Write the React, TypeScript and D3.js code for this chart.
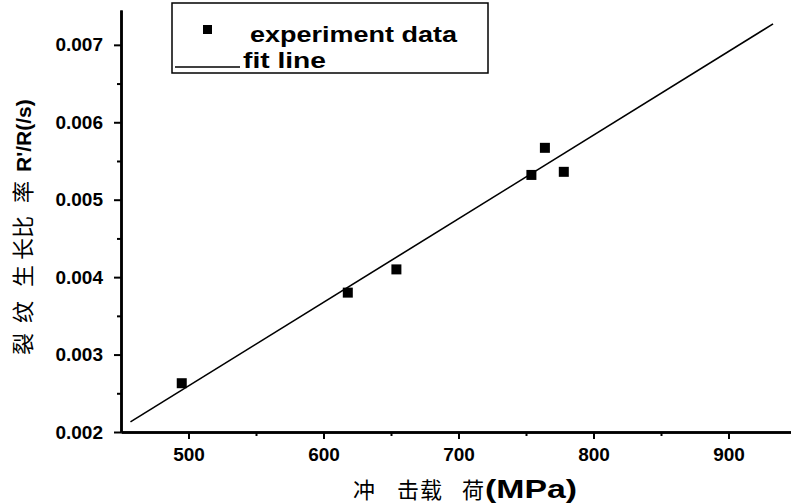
import React, { useEffect, useRef } from 'react';
import * as d3 from 'd3';

// experiment points
const loadMPa = [495, 618, 654, 754, 764, 778];
const growthRate = [0.00263, 0.0038, 0.0041, 0.00532, 0.00567, 0.00536];

// fitted line ends
const fitX = [457, 933];
const fitY = [0.00213, 0.00727];

const xMajor = [500, 600, 700, 800, 900];
const xMinor = [550, 650, 750, 850];
const yMajor = [0.002, 0.003, 0.004, 0.005, 0.006, 0.007];
const yMinor = [0.0025, 0.0035, 0.0045, 0.0055, 0.0065];

const legendLabels = ['experiment data', 'fit line'];

// title pieces (text, left edge)
const xTitleParts = [['冲', 353], ['击', 397], ['载', 420], ['荷', 462]];
const yTitleParts = [['裂', 355], ['纹', 323], ['生', 287], ['长比', 260], ['率', 203]];

const App = () => {
  const svgRef = useRef<SVGSVGElement>(null);

  useEffect(() => {
    const svg = d3.select(svgRef.current);
    svg.selectAll('*').remove();

    const x = d3.scaleLinear().domain([450, 950]).range([121, 796]);
    const y = d3.scaleLinear().domain([0.002, 0.00745]).range([432, 10]);

    const font = 'Liberation Sans, Arial, sans-serif';
    const cjk = 'Noto Sans CJK SC, sans-serif';

    // x axis
    const gx = svg.append('g').attr('transform', 'translate(0,432)');
    gx.call(d3.axisBottom(x).tickValues(xMinor).tickSize(4).tickSizeOuter(0).tickFormat(() => ''));
    const gx2 = svg.append('g').attr('transform', 'translate(0,432)');
    gx2.call(d3.axisBottom(x).tickValues(xMajor).tickSize(7).tickSizeOuter(0).tickPadding(9).tickFormat(d3.format('d')));

    // y axis
    const gy = svg.append('g').attr('transform', 'translate(121,0)');
    gy.call(d3.axisLeft(y).tickValues(yMinor).tickSize(4).tickSizeOuter(0).tickFormat(() => ''));
    const gy2 = svg.append('g').attr('transform', 'translate(121,0)');
    gy2.call(d3.axisLeft(y).tickValues(yMajor).tickSize(7).tickSizeOuter(0).tickPadding(11).tickFormat(d3.format('.3f')));

    [gx, gx2, gy, gy2].forEach((g) => {
      g.select('.domain').attr('stroke', '#000').attr('stroke-width', 2.5);
      g.selectAll('.tick line').attr('stroke', '#000').attr('stroke-width', 2);
      g.selectAll('.tick text')
        .attr('fill', '#000')
        .style('font-family', font)
        .style('font-size', '19px')
        .style('font-weight', 'bold');
    });

    // fit line
    const fitData = fitX.map((v, i) => [v, fitY[i]] as [number, number]);
    svg.append('path')
      .datum(fitData)
      .attr('fill', 'none')
      .attr('stroke', '#000')
      .attr('stroke-width', 1.6)
      .attr('d', d3.line<[number, number]>().x((d) => x(d[0])).y((d) => y(d[1])));

    // points
    const pts = loadMPa.map((v, i) => ({ x: v, y: growthRate[i] }));
    svg.append('g')
      .selectAll('rect')
      .data(pts)
      .join('rect')
      .attr('x', (d) => x(d.x) - 5)
      .attr('y', (d) => y(d.y) - 5)
      .attr('width', 10)
      .attr('height', 10)
      .attr('fill', '#000');

    // legend
    const lg = svg.append('g');
    lg.append('rect')
      .attr('x', 172).attr('y', 3).attr('width', 316).attr('height', 70)
      .attr('fill', '#fff').attr('stroke', '#000').attr('stroke-width', 1.5);
    lg.append('rect').attr('x', 203).attr('y', 25).attr('width', 9).attr('height', 9).attr('fill', '#000');
    lg.append('line').attr('x1', 175).attr('x2', 240).attr('y1', 67).attr('y2', 67)
      .attr('stroke', '#000').attr('stroke-width', 1.6);
    const legendWidths = [207, 83];
    lg.selectAll('text.lab')
      .data(legendLabels)
      .join('text')
      .attr('class', 'lab')
      .attr('x', (d, i) => (i === 0 ? 250 : 243))
      .attr('y', (d, i) => (i === 0 ? 42 : 68))
      .attr('textLength', (d, i) => legendWidths[i])
      .attr('lengthAdjust', 'spacingAndGlyphs')
      .style('font-family', font)
      .style('font-size', '22px')
      .style('font-weight', 'bold')
      .text((d) => d);

    // x title
    const xt = svg.append('g');
    xTitleParts.forEach(([t, px]) => {
      xt.append('text').attr('x', px).attr('y', 498)
        .style('font-family', cjk).style('font-size', '22px').text(t as string);
    });
    xt.append('text').attr('x', 485).attr('y', 498)
      .attr('textLength', 92).attr('lengthAdjust', 'spacingAndGlyphs')
      .style('font-family', font).style('font-weight', 'bold').style('font-size', '26px')
      .text('(MPa)');

    // y title (rotated)
    const yt = svg.append('g').attr('transform', 'translate(31,0) rotate(-90)');
    yTitleParts.forEach(([t, py]) => {
      yt.append('text').attr('x', -(py as number)).attr('y', 0)
        .style('font-family', cjk).style('font-size', '22px').text(t as string);
    });
    yt.append('text').attr('x', -172).attr('y', 0)
      .style('font-family', font).style('font-weight', 'bold').style('font-size', '21px')
      .text("R'/R(/s)");
  }, []);

  return (
    <svg
      ref={svgRef}
      width={791}
      height={504}
      style={{ position: 'absolute', left: 0, top: 0, background: '#fff' }}
    />
  );
};

export default App;
